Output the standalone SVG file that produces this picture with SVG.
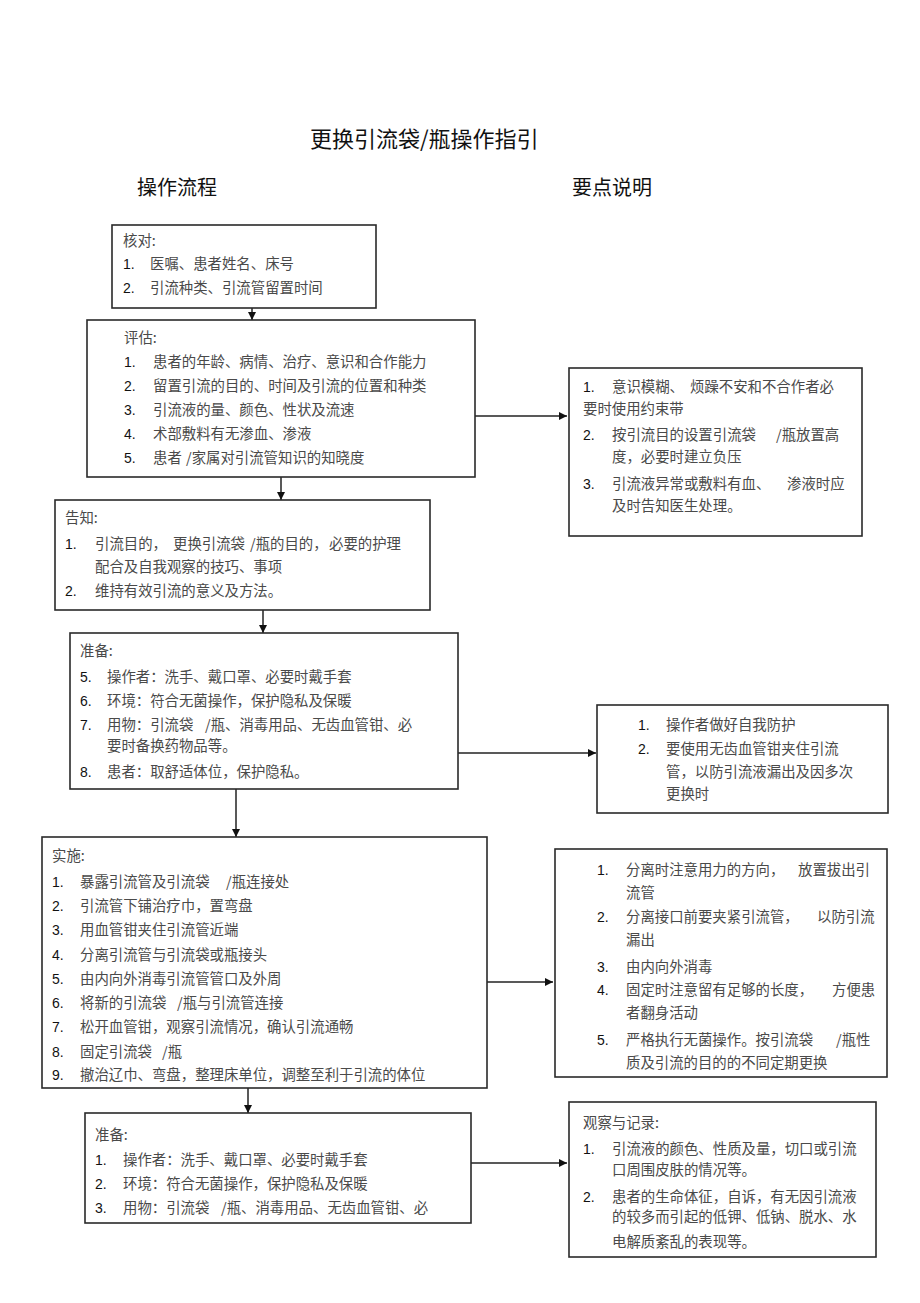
<svg xmlns="http://www.w3.org/2000/svg" width="920" height="1303" viewBox="0 0 920 1303">
<style>
.box{fill:#fff;stroke:#2a2a2a;stroke-width:1.6}
.t{font-family:"Noto Sans CJK SC","Liberation Sans",sans-serif;font-size:14.4px;fill:#4a4a4a}
.n{font-family:"Liberation Sans","Noto Sans CJK SC",sans-serif;font-size:14px;fill:#111}
.h{font-family:"Noto Sans CJK SC","Liberation Sans",sans-serif;fill:#111}
.c{stroke:#222;stroke-width:1.5;fill:none;marker-end:url(#ah)}
</style>
<defs>
<marker id="ah" viewBox="0 0 10 10" refX="10" refY="5" markerWidth="10" markerHeight="8" markerUnits="userSpaceOnUse" orient="auto">
<path d="M0,0 L10,5 L0,10 z" fill="#111"/>
</marker>
</defs>
<rect width="920" height="1303" fill="#fff"/>
<g id="titles">
<text class="h" x="310" y="147" font-size="22">更换引流袋/瓶操作指引</text>
<text class="h" x="137" y="195" font-size="20">操作流程</text>
<text class="h" x="572" y="195" font-size="20">要点说明</text>
</g>
<g id="connectors">
<line class="c" x1="252" y1="308" x2="252" y2="320"/>
<line class="c" x1="475" y1="416" x2="567" y2="416"/>
<line class="c" x1="281" y1="477" x2="281" y2="500"/>
<line class="c" x1="263" y1="610" x2="263" y2="633"/>
<line class="c" x1="458" y1="753" x2="596" y2="753"/>
<line class="c" x1="236" y1="789" x2="236" y2="837"/>
<line class="c" x1="487" y1="982" x2="553" y2="982"/>
<line class="c" x1="248" y1="1088" x2="248" y2="1113"/>
<line class="c" x1="471" y1="1163" x2="567" y2="1163"/>
</g>
<g id="n1">
<rect class="box" x="112" y="225" width="264" height="83"/>
<text class="t" x="123" y="246">核对:</text>
<text class="n" x="123" y="269">1.</text><text class="t" x="150" y="269">医嘱、患者姓名、床号</text>
<text class="n" x="123" y="293">2.</text><text class="t" x="150" y="293">引流种类、引流管留置时间</text>
</g>
<g id="n2">
<rect class="box" x="87" y="320" width="388" height="157"/>
<text class="t" x="124" y="343">评估:</text>
<text class="n" x="124" y="367">1.</text><text class="t" x="153" y="367">患者的年龄、病情、治疗、意识和合作能力</text>
<text class="n" x="124" y="391">2.</text><text class="t" x="153" y="391">留置引流的目的、时间及引流的位置和种类</text>
<text class="n" x="124" y="415">3.</text><text class="t" x="153" y="415">引流液的量、颜色、性状及流速</text>
<text class="n" x="124" y="439">4.</text><text class="t" x="153" y="439">术部敷料有无渗血、渗液</text>
<text class="n" x="124" y="463">5.</text><text class="t" x="153" y="463">患者</text><text class="t" x="186" y="463">/家属对引流管知识的知晓度</text>
</g>
<g id="n3">
<rect class="box" x="569" y="368" width="293" height="168"/>
<text class="n" x="583" y="392">1.</text><text class="t" x="612" y="392">意识模糊、</text><text class="t" x="690" y="392">烦躁不安和不合作者必</text>
<text class="t" x="583" y="414">要时使用约束带</text>
<text class="n" x="583" y="440">2.</text><text class="t" x="612" y="440">按引流目的设置引流袋</text><text class="t" x="776" y="440">/瓶放置高</text>
<text class="t" x="612" y="462">度，必要时建立负压</text>
<text class="n" x="583" y="489">3.</text><text class="t" x="612" y="489">引流液异常或敷料有血、</text><text class="t" x="787" y="489">渗液时应</text>
<text class="t" x="612" y="511">及时告知医生处理。</text>
</g>
<g id="n4">
<rect class="box" x="55" y="500" width="375" height="110"/>
<text class="t" x="65" y="523">告知:</text>
<text class="n" x="65" y="549">1.</text><text class="t" x="95" y="549">引流目的，</text><text class="t" x="173" y="549">更换引流袋</text><text class="t" x="250" y="549">/瓶的目的，</text><text class="t" x="329" y="549">必要的护理</text>
<text class="t" x="95" y="572">配合及自我观察的技巧、事项</text>
<text class="n" x="65" y="596">2.</text><text class="t" x="95" y="596">维持有效引流的意义及方法。</text>
</g>
<g id="n5">
<rect class="box" x="70" y="633" width="388" height="156"/>
<text class="t" x="80" y="656">准备:</text>
<text class="n" x="80" y="682">5.</text><text class="t" x="107" y="682">操作者：洗手、戴口罩、必要时戴手套</text>
<text class="n" x="80" y="706">6.</text><text class="t" x="107" y="706">环境：符合无菌操作，保护隐私及保暖</text>
<text class="n" x="80" y="730">7.</text><text class="t" x="107" y="730">用物：引流袋</text><text class="t" x="205" y="730">/瓶、消毒用品、无齿血管钳、必</text>
<text class="t" x="107" y="751">要时备换药物品等。</text>
<text class="n" x="80" y="777">8.</text><text class="t" x="107" y="777">患者：取舒适体位，保护隐私。</text>
</g>
<g id="n6">
<rect class="box" x="597" y="705" width="291" height="108"/>
<text class="n" x="638" y="730">1.</text><text class="t" x="666" y="730">操作者做好自我防护</text>
<text class="n" x="638" y="754">2.</text><text class="t" x="666" y="754">要使用无齿血管钳夹住引流</text>
<text class="t" x="666" y="777">管，以防引流液漏出及因多次</text>
<text class="t" x="666" y="799">更换时</text>
</g>
<g id="n7">
<rect class="box" x="42" y="837" width="445" height="251"/>
<text class="t" x="52" y="861">实施:</text>
<text class="n" x="52" y="887">1.</text><text class="t" x="80" y="887">暴露引流管及引流袋</text><text class="t" x="226" y="887">/瓶连接处</text>
<text class="n" x="52" y="911">2.</text><text class="t" x="80" y="911">引流管下铺治疗巾，置弯盘</text>
<text class="n" x="52" y="935">3.</text><text class="t" x="80" y="935">用血管钳夹住引流管近端</text>
<text class="n" x="52" y="960">4.</text><text class="t" x="80" y="960">分离引流管与引流袋或瓶接头</text>
<text class="n" x="52" y="984">5.</text><text class="t" x="80" y="984">由内向外消毒引流管管口及外周</text>
<text class="n" x="52" y="1008">6.</text><text class="t" x="80" y="1008">将新的引流袋</text><text class="t" x="177" y="1008">/瓶与引流管连接</text>
<text class="n" x="52" y="1032">7.</text><text class="t" x="80" y="1032">松开血管钳，观察引流情况，确认引流通畅</text>
<text class="n" x="52" y="1057">8.</text><text class="t" x="80" y="1057">固定引流袋</text><text class="t" x="162" y="1057">/瓶</text>
<text class="n" x="52" y="1080">9.</text><text class="t" x="80" y="1080">撤治辽巾、弯盘，整理床单位，调整至利于引流的体位</text>
</g>
<g id="n8">
<rect class="box" x="555" y="849" width="332" height="228"/>
<text class="n" x="597" y="875">1.</text><text class="t" x="626" y="875">分离时注意用力的方向，</text><text class="t" x="798" y="875">放置拔出引</text>
<text class="t" x="626" y="898">流管</text>
<text class="n" x="597" y="922">2.</text><text class="t" x="626" y="922">分离接口前要夹紧引流管，</text><text class="t" x="817" y="922">以防引流</text>
<text class="t" x="626" y="945">漏出</text>
<text class="n" x="597" y="972">3.</text><text class="t" x="626" y="972">由内向外消毒</text>
<text class="n" x="597" y="995">4.</text><text class="t" x="626" y="995">固定时注意留有足够的长度，</text><text class="t" x="832" y="995">方便患</text>
<text class="t" x="626" y="1018">者翻身活动</text>
<text class="n" x="597" y="1045">5.</text><text class="t" x="626" y="1045">严格执行无菌操作。按引流袋</text><text class="t" x="836" y="1045">/瓶性</text>
<text class="t" x="626" y="1068">质及引流的目的的不同定期更换</text>
</g>
<g id="n9">
<rect class="box" x="85" y="1113" width="386" height="110"/>
<text class="t" x="95" y="1140">准备:</text>
<text class="n" x="95" y="1165">1.</text><text class="t" x="123" y="1165">操作者：洗手、戴口罩、必要时戴手套</text>
<text class="n" x="95" y="1189">2.</text><text class="t" x="123" y="1189">环境：符合无菌操作，保护隐私及保暖</text>
<text class="n" x="95" y="1213">3.</text><text class="t" x="123" y="1213">用物：引流袋</text><text class="t" x="221" y="1213">/瓶、消毒用品、无齿血管钳、必</text>
</g>
<g id="n10">
<rect class="box" x="569" y="1102" width="307" height="155"/>
<text class="t" x="583" y="1128">观察与记录:</text>
<text class="n" x="583" y="1154">1.</text><text class="t" x="612" y="1154">引流液的颜色、性质及量，切口或引流</text>
<text class="t" x="612" y="1175">口周围皮肤的情况等。</text>
<text class="n" x="583" y="1202">2.</text><text class="t" x="612" y="1202">患者的生命体征，自诉，有无因引流液</text>
<text class="t" x="612" y="1222">的较多而引起的低钾、低钠、脱水、水</text>
<text class="t" x="612" y="1247">电解质紊乱的表现等。</text>
</g>
</svg>
